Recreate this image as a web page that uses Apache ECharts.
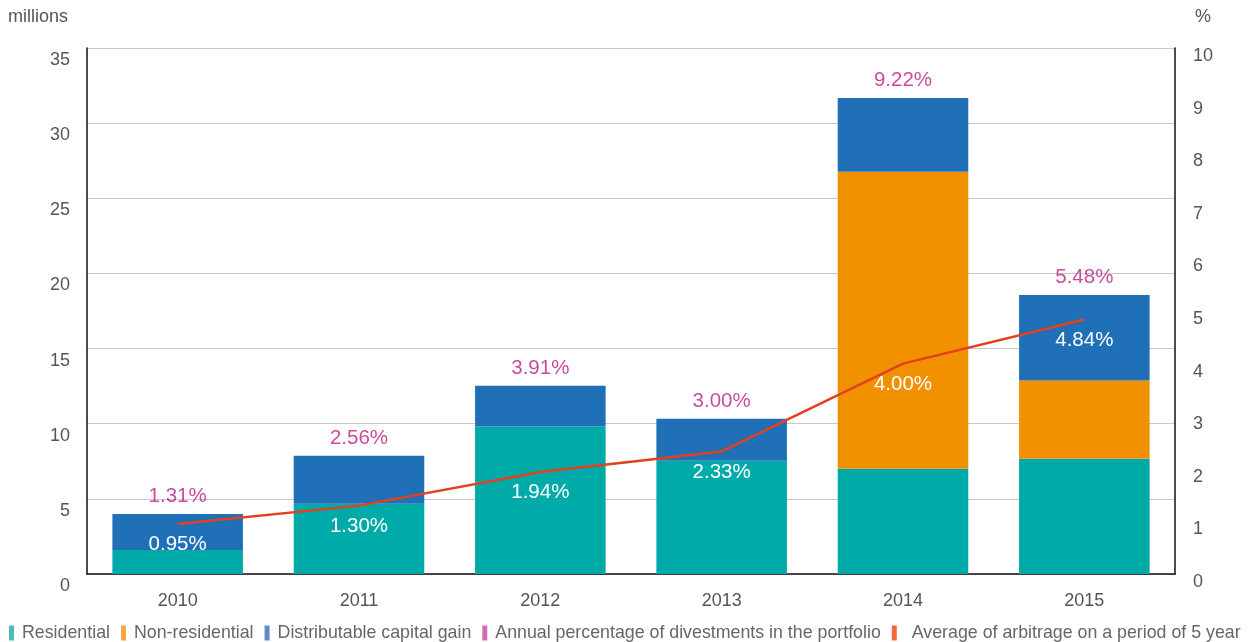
<!DOCTYPE html>
<html>
<head>
<meta charset="utf-8">
<script src="https://cdn.jsdelivr.net/npm/echarts@6/dist/echarts.min.js"></script>
<style>
    html, body { margin: 0; padding: 0; background: #fff; }
    #chart { width: 1255px; height: 642px; }
</style>
</head>
<body>
<div id="chart"></div>
<script>
// 年份
const years = ['2010', '2011', '2012', '2013', '2014', '2015'];

// 柱状数据（百万）
const residential = [1.6, 4.67, 9.82, 7.53, 7.0, 7.67];
const nonResidential = [0, 0, 0, 0, 19.76, 5.2];
const distributable = [2.4, 3.2, 2.71, 2.8, 4.91, 5.69];

// 百分比
const annualPct = [1.31, 2.56, 3.91, 3.00, 9.22, 5.48];
const avgArbitrage = [0.95, 1.30, 1.94, 2.33, 4.00, 4.84];

const leftTicks = { min: 0, max: 35, interval: 5 };
const rightTicks = { min: 0, max: 10, interval: 1 };

{
    const font = '"Liberation Sans", Arial, sans-serif';
    const grey = '#555';

    // 柱顶位置（用于显示年度百分比）
    let totals = [];
    for (let i = 0; i < years.length; i++) {
        totals.push(residential[i] + nonResidential[i] + distributable[i]);
    }

    let option = {
        animation: false,
        textStyle: { fontFamily: font },
        grid: { left: 87, right: 80, top: 48, bottom: 68, containLabel: false },
        graphic: [
            { type: 'text', left: 8, top: 8, style: { text: 'millions', font: '18px ' + font, fill: grey } },
            { type: 'text', left: 1195, top: 8, style: { text: '%', font: '18px ' + font, fill: grey } }
        ],
        legend: {
            left: 4,
            top: 619,
            width: 1400,
            icon: 'rect',
            itemWidth: 5,
            itemHeight: 15,
            itemGap: 11,
            textStyle: { fontSize: 17.8, color: '#666', fontFamily: font, padding: [0, 0, 0, 3] },
            data: [
                { name: 'Residential', itemStyle: { color: '#4dbcb7' } },
                { name: 'Non-residential', itemStyle: { color: '#f5a63e' } },
                { name: 'Distributable capital gain', itemStyle: { color: '#5a8ccb' } },
                { name: 'Annual percentage of divestments in the portfolio', itemStyle: { color: '#c8479b' } },
                { name: 'Average of arbitrage on a period of 5 year', itemStyle: { color: '#ef6a3a' }, textStyle: { padding: [0, 0, 0, 10] } }
            ]
        },
        xAxis: {
            type: 'category',
            data: years,
            axisLine: { lineStyle: { color: '#111', width: 1.5 } },
            axisTick: { show: false },
            axisLabel: { color: grey, fontSize: 18, margin: 18 }
        },
        yAxis: [{
            type: 'value',
            min: leftTicks.min,
            max: leftTicks.max,
            interval: leftTicks.interval,
            axisLine: { show: true, lineStyle: { color: '#111', width: 1.5 } },
            axisTick: { show: false },
            axisLabel: { color: grey, fontSize: 18, margin: 17, verticalAlign: 'top', padding: [3, 0, 0, 0] },
            splitLine: { lineStyle: { color: '#c8c8c8', width: 1.2 } }
        }, {
            type: 'value',
            position: 'right',
            min: rightTicks.min,
            max: rightTicks.max,
            interval: rightTicks.interval,
            axisLine: { show: true, lineStyle: { color: '#111', width: 1.5 } },
            axisTick: { show: false },
            axisLabel: { color: grey, fontSize: 18, margin: 18, verticalAlign: 'top', padding: [-1, 0, 0, 0] },
            splitLine: { show: false }
        }],
        series: [{
            name: 'Residential',
            type: 'bar',
            stack: 'total',
            barWidth: '72%',
            itemStyle: { color: '#00aaa8' },
            data: residential
        }, {
            name: 'Non-residential',
            type: 'bar',
            stack: 'total',
            itemStyle: { color: '#f29100' },
            data: nonResidential
        }, {
            name: 'Distributable capital gain',
            type: 'bar',
            stack: 'total',
            itemStyle: { color: '#2070b7' },
            data: distributable
        }, {
            name: 'Annual percentage of divestments in the portfolio',
            type: 'scatter',
            symbolSize: 0.01,
            itemStyle: { color: '#bc1e80' },
            label: {
                show: true,
                position: 'top',
                distance: 7,
                color: '#bc1e80',
                fontSize: 20.5,
                formatter: (p) => annualPct[p.dataIndex].toFixed(2) + '%'
            },
            data: totals,
            z: 5
        }, {
            name: 'Average of arbitrage on a period of 5 year',
            type: 'line',
            yAxisIndex: 1,
            showSymbol: true,
            symbol: 'circle',
            symbolSize: 0.01,
            lineStyle: { color: '#e4401e', width: 2.5 },
            itemStyle: { color: '#e4401e' },
            label: {
                show: true,
                position: 'bottom',
                distance: 10,
                color: '#fff',
                fontSize: 20.5,
                formatter: (p) => p.value.toFixed(2) + '%'
            },
            data: avgArbitrage,
            z: 4
        }]
    };

    echarts.init(document.getElementById('chart')).setOption(option);
}
</script>
</body>
</html>
